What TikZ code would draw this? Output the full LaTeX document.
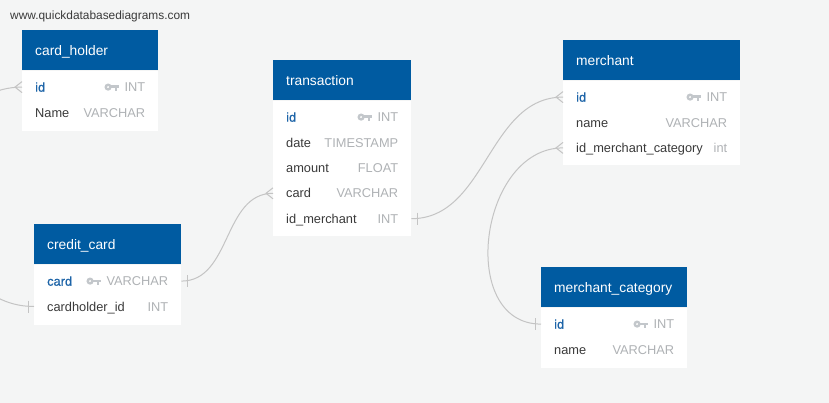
\documentclass[tikz,border=0pt]{standalone}
\usepackage{fontspec}
\setmainfont{Liberation Sans}
\newfontfamily\pkfont[FakeBold=0.8]{Liberation Sans}
\usepackage{xcolor}
\usetikzlibrary{positioning,calc}

\definecolor{canvas}{HTML}{F4F5F5}
\definecolor{hdrblue}{HTML}{005BA1}
\definecolor{pkblue}{HTML}{1D64A8}
\definecolor{fieldgray}{HTML}{3A3A3A}
\definecolor{typegray}{HTML}{AFB2B5}
\definecolor{keygray}{HTML}{C3C7CB}
\definecolor{relgray}{HTML}{C4C4C4}

\tikzset{
  hdr/.style={fill=hdrblue, anchor=north west, minimum height=40pt, inner sep=0pt},
  title/.style={inner sep=0pt, text height=9.9pt, text depth=0pt, text=white, font=\fontsize{13.8}{16}\selectfont},
  tbody/.style={fill=white, anchor=north west, inner sep=0pt},
  rowbox/.style={anchor=north west, minimum height=25pt, inner sep=0pt},
  fname/.style={inner sep=0pt, text height=9.2pt, text depth=0pt, text=fieldgray, font=\fontsize{12.8}{15}\selectfont},
  pkname/.style={fname, text=pkblue, font=\fontsize{12.8}{15}\pkfont},
  ftype/.style={inner sep=0pt, text height=9.2pt, text depth=0pt, text=typegray, font=\fontsize{12.8}{15}\selectfont},
  rel/.style={draw=relgray, line width=1pt},
}

% key symbol left of a type label
\newcommand\keyicon[1]{%
  \begin{scope}[shift={(#1.west)}]
    \fill[keygray, even odd rule] (-16.3,0) circle (3.6) (-16.3,0) circle (1.3);
    \fill[keygray] (-13.5,-1.6) rectangle (-5.8,1.3);
    \fill[keygray] (-9.8,1.3) rectangle (-7.6,3.5);
  \end{scope}}
% one / many ends
\newcommand\onebar[2]{\draw[rel] ([xshift=#2]#1) ++(0,-6) -- ++(0,12);}
\newcommand\crowfoot[2]{\draw[rel] ([yshift=-5.5]#1) -- ([xshift=#2]#1) -- ([yshift=5.5]#1);}

\begin{document}
\begin{tikzpicture}[x=1pt,y=-1pt]
\useasboundingbox (0,0) rectangle (829,403);
\fill[canvas] (0,0) rectangle (829,403);
\clip (0,0) rectangle (829,403);

\node[anchor=west, inner sep=0pt, text=fieldgray, font=\fontsize{11.9}{14}\selectfont] (url) at (10,16) {www.quickdatabasediagrams.com};

% card_holder
\node[hdr, minimum width=136pt] (ch) at (22,30) {};
\node[title, right=13pt of ch.west] {card\_holder};
\node[tbody, minimum width=136pt, minimum height=60pt] (ch-bd) at (ch.south west) {};
\node[rowbox, minimum width=136pt] (ch-id) at ([yshift=-4]ch-bd.north west) {};
\node[rowbox, minimum width=136pt, below=0pt of ch-id.south west, anchor=north west] (ch-name) {};
\node[pkname, right=13pt of ch-id.west] {id};
\node[ftype, left=13pt of ch-id.east] (ch-id-t) {INT};
\keyicon{ch-id-t}
\node[fname, right=13pt of ch-name.west] {Name};
\node[ftype, left=13pt of ch-name.east] {VARCHAR};

% credit_card
\node[hdr, minimum width=147pt] (cc) at (34,224) {};
\node[title, right=13pt of cc.west] {credit\_card};
\node[tbody, minimum width=147pt, minimum height=60pt] (cc-bd) at (cc.south west) {};
\node[rowbox, minimum width=147pt] (cc-card) at ([yshift=-4]cc-bd.north west) {};
\node[rowbox, minimum width=147pt, below=0pt of cc-card.south west, anchor=north west] (cc-holder) {};
\node[pkname, right=13pt of cc-card.west] {card};
\node[ftype, left=13pt of cc-card.east] (cc-card-t) {VARCHAR};
\keyicon{cc-card-t}
\node[fname, right=13pt of cc-holder.west] {cardholder\_id};
\node[ftype, left=13pt of cc-holder.east] {INT};

% transaction
\node[hdr, minimum width=138pt] (tr) at (273,60) {};
\node[title, right=13pt of tr.west] {transaction};
\node[tbody, minimum width=138pt, minimum height=135pt] (tr-bd) at (tr.south west) {};
\node[rowbox, minimum width=138pt] (tr-id) at ([yshift=-4]tr-bd.north west) {};
\node[rowbox, minimum width=138pt, below=0pt of tr-id.south west, anchor=north west] (tr-date) {};
\node[rowbox, minimum width=138pt, below=0pt of tr-date.south west, anchor=north west] (tr-amount) {};
\node[rowbox, minimum width=138pt, below=0pt of tr-amount.south west, anchor=north west] (tr-card) {};
\node[rowbox, minimum width=138pt, below=0pt of tr-card.south west, anchor=north west] (tr-merch) {};
\node[pkname, right=13pt of tr-id.west] {id};
\node[ftype, left=13pt of tr-id.east] (tr-id-t) {INT};
\keyicon{tr-id-t}
\node[fname, right=13pt of tr-date.west] {date};
\node[ftype, left=13pt of tr-date.east] {TIMESTAMP};
\node[fname, right=13pt of tr-amount.west] {amount};
\node[ftype, left=13pt of tr-amount.east] {FLOAT};
\node[fname, right=13pt of tr-card.west] {card};
\node[ftype, left=13pt of tr-card.east] {VARCHAR};
\node[fname, right=13pt of tr-merch.west] {id\_merchant};
\node[ftype, left=13pt of tr-merch.east] {INT};

% merchant
\node[hdr, minimum width=177pt] (mc) at (563,40) {};
\node[title, right=13pt of mc.west] {merchant};
\node[tbody, minimum width=177pt, minimum height=84pt] (mc-bd) at (mc.south west) {};
\node[rowbox, minimum width=177pt] (mc-id) at ([yshift=-4]mc-bd.north west) {};
\node[rowbox, minimum width=177pt, below=0pt of mc-id.south west, anchor=north west] (mc-name) {};
\node[rowbox, minimum width=177pt, below=0pt of mc-name.south west, anchor=north west] (mc-cat) {};
\node[pkname, right=13pt of mc-id.west] {id};
\node[ftype, left=13pt of mc-id.east] (mc-id-t) {INT};
\keyicon{mc-id-t}
\node[fname, right=13pt of mc-name.west] {name};
\node[ftype, left=13pt of mc-name.east] {VARCHAR};
\node[fname, right=13pt of mc-cat.west] {id\_merchant\_category};
\node[ftype, left=13pt of mc-cat.east] {int};

% merchant_category
\node[hdr, minimum width=146pt] (mcat) at (541,267) {};
\node[title, right=13pt of mcat.west] {merchant\_category};
\node[tbody, minimum width=146pt, minimum height=60pt] (mcat-bd) at (mcat.south west) {};
\node[rowbox, minimum width=146pt] (mcat-id) at ([yshift=-4]mcat-bd.north west) {};
\node[rowbox, minimum width=146pt, below=0pt of mcat-id.south west, anchor=north west] (mcat-name) {};
\node[pkname, right=13pt of mcat-id.west] {id};
\node[ftype, left=13pt of mcat-id.east] (mcat-id-t) {INT};
\keyicon{mcat-id-t}
\node[fname, right=13pt of mcat-name.west] {name};
\node[ftype, left=13pt of mcat-name.east] {VARCHAR};

% relations
\draw[rel] (ch-id.west) .. controls +(-113,0) and +(-113,0) .. (cc-holder.west);
\crowfoot{ch-id.west}{-7}
\onebar{cc-holder.west}{-6}

\draw[rel] (cc-card.east) .. controls +(50,0) and +(-50,0) .. (tr-card.west);
\onebar{cc-card.east}{6}
\crowfoot{tr-card.west}{-7}

\draw[rel] (tr-merch.east) .. controls +(75,0) and +(-75,0) .. (mc-id.west);
\onebar{tr-merch.east}{6}
\crowfoot{mc-id.west}{-7}

\draw[rel] (mc-cat.west) .. controls +(-84,0) and +(-84,0) .. (mcat-id.west);
\crowfoot{mc-cat.west}{-7}
\onebar{mcat-id.west}{-6}
\end{tikzpicture}
\end{document}
